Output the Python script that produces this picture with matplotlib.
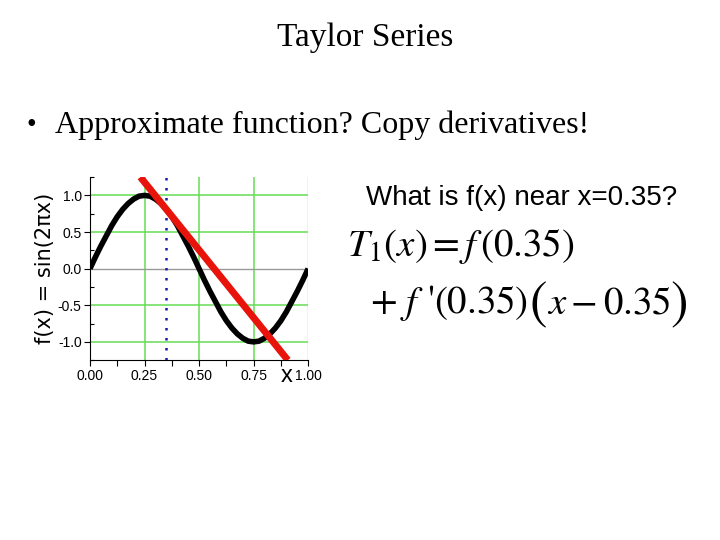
import numpy as np
import matplotlib.pyplot as plt
from matplotlib.ticker import MultipleLocator

# curve values, f(x) = sin(2*pi*x)
x_vals = [0.000, 0.025, 0.050, 0.075, 0.100, 0.125, 0.150, 0.175, 0.200, 0.225,
          0.250, 0.275, 0.300, 0.325, 0.350, 0.375, 0.400, 0.425, 0.450, 0.475,
          0.500, 0.525, 0.550, 0.575, 0.600, 0.625, 0.650, 0.675, 0.700, 0.725,
          0.750, 0.775, 0.800, 0.825, 0.850, 0.875, 0.900, 0.925, 0.950, 0.975, 1.000]
f_vals = [0.00, 0.16, 0.31, 0.45, 0.59, 0.71, 0.81, 0.89, 0.95, 0.99,
          1.00, 0.99, 0.95, 0.89, 0.81, 0.71, 0.59, 0.45, 0.31, 0.16,
          0.00, -0.16, -0.31, -0.45, -0.59, -0.71, -0.81, -0.89, -0.95, -0.99,
          -1.00, -0.99, -0.95, -0.89, -0.81, -0.71, -0.59, -0.45, -0.31, -0.16, 0.00]

# tangent line at x0 = 0.35
x0 = 0.35
tangent_x = [0.231, 0.907]
tangent_y = [1.25, -1.25]

x_ticks = [0.00, 0.25, 0.50, 0.75, 1.00]
x_tick_labels = ["0.00", "0.25", "0.50", "0.75", "1.00"]
y_ticks = [-1.0, -0.5, 0.0, 0.5, 1.0]
y_tick_labels = ["-1.0", "-0.5", "0.0", "0.5", "1.0"]

plt.rcParams['mathtext.fontset'] = 'stix'

W, H = 720, 540
fig = plt.figure(figsize=(7.2, 5.4), dpi=100)
fig.patch.set_facecolor('white')
renderer = fig.canvas.get_renderer()


def put(px, py, s, **kw):
    # place text by pixel position (py measured from the top), return right edge in px
    t = fig.text(px / W, 1 - py / H, s, ha='left', va='baseline', **kw)
    bb = t.get_window_extent(renderer=renderer)
    return bb.x1


# slide text
fig.text(0.507, 1 - 46 / H, "Taylor Series", ha='center', va='baseline',
         family='Liberation Serif', fontsize=24)
put(27, 132, "\u2022", family='Liberation Serif', fontsize=20)
put(55, 133, "Approximate function? Copy derivatives!", family='Liberation Serif', fontsize=23)
put(366, 205, "What is f(x) near x=0.35?", family='Liberation Sans', fontsize=20)

eq_size = 28
put(347, 256, r"$T_1(x) = f\,(0.35)$", fontsize=eq_size)
xr = put(370, 313, r"$+\ f$", fontsize=eq_size, family='STIXGeneral')
xr = put(xr + 3, 313, "'", fontsize=eq_size, family='STIXGeneral')
xr = put(xr, 313, r"$(0.35)$", fontsize=eq_size)
xr = put(xr + 1, 318, "(", fontsize=38, family='STIXGeneral')
xr = put(xr, 313, r"$x - 0.35$", fontsize=eq_size)
put(xr, 318, ")", fontsize=38, family='STIXGeneral')

ax = fig.add_axes([0.125, 0.333, 0.303, 0.339])
ax.set_xlim(0, 1)
ax.set_ylim(-1.25, 1.25)

grid_green = '#66dd55'
for gx in [0.25, 0.5, 0.75]:
    ax.axvline(gx, color=grid_green, lw=1.1, zorder=1)
for gy in [-1.0, -0.5, 0.5, 1.0]:
    ax.axhline(gy, color=grid_green, lw=1.1, zorder=1)
ax.axhline(0.0, color='#999999', lw=1.0, zorder=1)
ax.axvline(1.0, color='#bbbbbb', lw=1.0, zorder=1)

ax.plot(x_vals, f_vals, color='black', lw=4, zorder=3, solid_capstyle='butt')
ax.plot(tangent_x, tangent_y, color='#e8140c', lw=5, zorder=4, solid_capstyle='butt')
ax.axvline(x0, color='#1a1aaa', lw=1.8, ls=(0, (1, 3)), zorder=2)

for s in ['top', 'right']:
    ax.spines[s].set_visible(False)
ax.spines['left'].set_linewidth(0.8)
ax.spines['bottom'].set_linewidth(0.8)

ax.set_xticks(x_ticks)
ax.set_xticklabels(x_tick_labels, family='Liberation Sans', fontsize=10)
ax.set_yticks(y_ticks)
ax.set_yticklabels(y_tick_labels, family='Liberation Sans', fontsize=10)
ax.xaxis.set_minor_locator(MultipleLocator(0.125))
ax.yaxis.set_minor_locator(MultipleLocator(0.25))
ax.tick_params(axis='x', which='both', direction='out', length=4, width=0.8, pad=2)
ax.tick_params(axis='y', which='major', direction='out', length=4, width=0.8, pad=2)
ax.tick_params(axis='y', which='minor', direction='in', length=3, width=0.8)

ax.set_ylabel("f(x) = sin(2\u03c0x)", family='DejaVu Sans', fontsize=15, labelpad=2)
ax.text(0.90, -1.47, "x", ha='center', va='center', family='Liberation Sans', fontsize=17)

fig.savefig("out.png", dpi=100, facecolor='white')
